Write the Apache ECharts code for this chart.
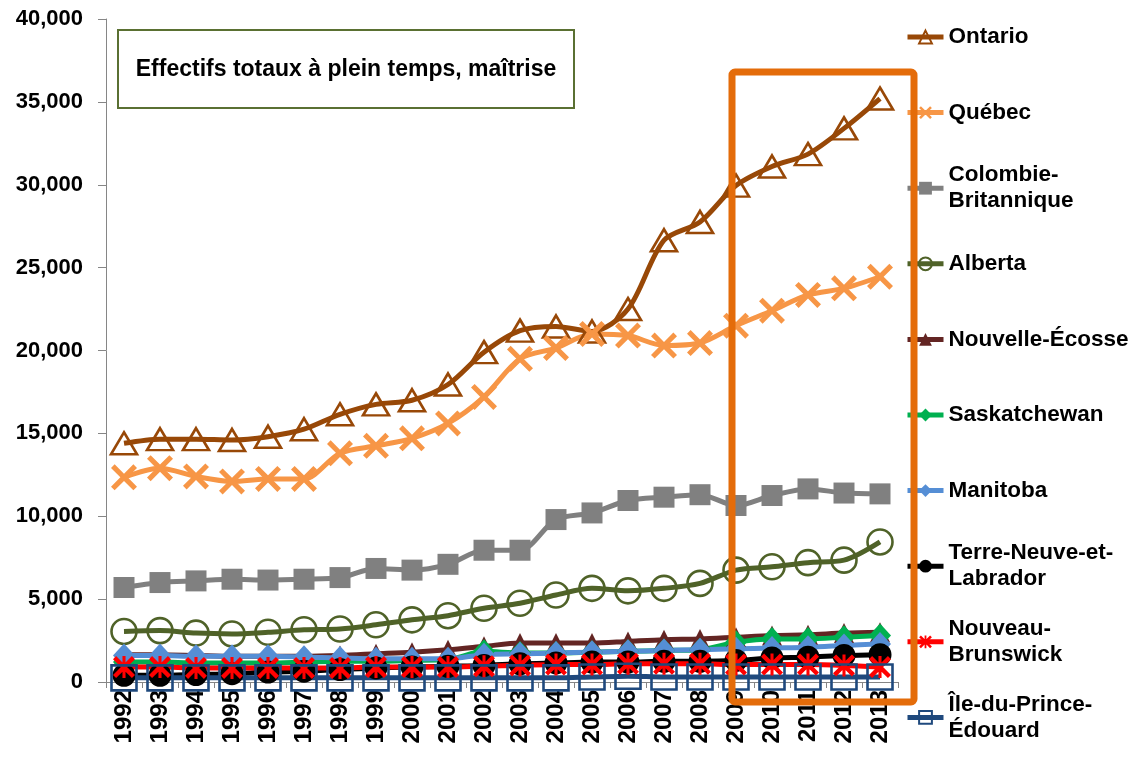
<!DOCTYPE html>
<html>
<head>
<meta charset="utf-8">
<title>Effectifs totaux à plein temps, maîtrise</title>
<script src="https://cdn.jsdelivr.net/npm/echarts@6/dist/echarts.min.js"></script>
<style>
	html, body { margin: 0; padding: 0; background: #fff; }
	#main { width: 1133px; height: 757px; }
</style>
</head>
<body>
<div id="main"></div>
<script>
	var years = ['1992','1993','1994','1995','1996','1997','1998','1999','2000','2001','2002',
		'2003','2004','2005','2006','2007','2008','2009','2010','2011','2012','2013'];

	var ontario = [14400,14650,14650,14600,14800,15250,16150,16750,17000,17950,19900,21200,21450,21150,22500,26650,27750,29950,31100,31850,33400,35200];
	var quebec = [12350,12900,12400,12100,12250,12250,13800,14250,14700,15600,17200,19500,20150,21000,20900,20300,20450,21500,22400,23350,23750,24450];
	var colombie = [5700,6000,6100,6200,6150,6200,6300,6850,6750,7100,7950,7950,9800,10200,10950,11150,11300,10650,11250,11650,11400,11350];
	var alberta = [3050,3100,2950,2900,3000,3150,3200,3450,3750,4000,4450,4750,5250,5650,5500,5650,5950,6750,6950,7200,7350,8450];
	var nouvelleEcosse = [1650,1650,1600,1550,1550,1550,1600,1700,1800,1950,2150,2350,2350,2350,2450,2550,2600,2700,2800,2850,2950,3000];
	var saskatchewan = [1200,1200,1150,1150,1150,1200,1250,1250,1300,1350,1850,1750,1750,1800,1850,1900,1950,2400,2600,2600,2700,2800];
	var manitoba = [1600,1600,1550,1550,1550,1500,1450,1400,1400,1400,1650,1700,1750,1800,1850,1900,1950,2000,2050,2100,2200,2300];
	var terreNeuve = [400,400,450,500,600,650,750,850,900,950,1000,1100,1150,1200,1200,1250,1250,1300,1450,1500,1600,1650];
	var nouveauBrunswick = [900,900,850,850,850,850,850,900,900,900,950,1000,1050,1050,1100,1100,1100,1050,1050,1050,1000,900];
	var ipe = [250,250,250,250,250,250,250,250,250,250,250,250,250,300,350,300,300,300,300,300,300,300];

	var yTicks = [0,5000,10000,15000,20000,25000,30000,35000,40000];

	var FONT = "'Liberation Sans', Arial, sans-serif";
	var X_PATH = 'path://M0,1.4L1.4,0L5,3.6L8.6,0L10,1.4L6.4,5L10,8.6L8.6,10L5,6.4L1.4,10L0,8.6L3.6,5Z';
	var STAR_PATH = 'path://M0,1.4L1.4,0L5,3.6L8.6,0L10,1.4L6.4,5L10,8.6L8.6,10L5,6.4L1.4,10L0,8.6L3.6,5Z M4.3,0H5.7V10H4.3Z';

	// name, data, colour, symbol, size, hollow, legend label
	var seriesDefs = [
		['Ontario', ontario, '#984807', 'triangle', [26,22], true, 'Ontario'],
		['Québec', quebec, '#F79646', X_PATH, 26, false, 'Québec'],
		['Colombie-Britannique', colombie, '#808080', 'rect', 21, false, 'Colombie-\nBritannique'],
		['Alberta', alberta, '#4F6228', 'circle', 25, true, 'Alberta'],
		['Nouvelle-Écosse', nouvelleEcosse, '#632523', 'triangle', 20, false, 'Nouvelle-Écosse'],
		['Saskatchewan', saskatchewan, '#00B050', 'diamond', [22,24], false, 'Saskatchewan'],
		['Manitoba', manitoba, '#558ED5', 'diamond', [22,24], false, 'Manitoba'],
		['Terre-Neuve-et-Labrador', terreNeuve, '#000000', 'circle', 23, false, 'Terre-Neuve-et-\nLabrador'],
		['Nouveau-Brunswick', nouveauBrunswick, '#FF0000', STAR_PATH, 22, false, 'Nouveau-\nBrunswick'],
		['Île-du-Prince-Édouard', ipe, '#1F497D', 'rect', 25, true, 'Île-du-Prince-\nÉdouard']
	];

	var series = [];
	var legends = [];
	seriesDefs.forEach(function(d, i){
		var hollow = d[5];
		series.push({
			name: d[0],
			type: 'line',
			data: d[1],
			smooth: 0.3,
			symbol: d[3],
			symbolSize: d[4],
			showAllSymbol: true,
			lineStyle: { color: d[2], width: 5 },
			itemStyle: hollow ?
				{ color: 'rgba(255,255,255,0)', borderColor: d[2], borderWidth: 2.6 } :
				{ color: d[2], borderWidth: 0 },
			emphasis: { disabled: true },
			animation: false
		});
		var label = d[6];
		var twoLines = label.indexOf('\n') >= 0;
		var centerY = 37 + i * 75.6;
		legends.push({
			show: true,
			orient: 'vertical',
			left: 905,
			top: centerY - (twoLines ? 39 : 13),
			padding: 0,
			itemWidth: 36,
			itemHeight: 16,
			itemGap: 0,
			selectedMode: false,
			data: [d[0]],
			lineStyle: { width: 5 },
			formatter: function(){ return label; },
			textStyle: {
				fontFamily: FONT,
				fontWeight: 'bold',
				fontSize: 22.5,
				color: '#000',
				lineHeight: 26,
				padding: twoLines ? [26,0,0,0] : 0
			}
		});
	});

	var myChart = echarts.init(document.getElementById('main'));
	myChart.setOption({
		backgroundColor: '#fff',
		animation: false,
		grid: { left: 106, right: 235, top: 19, bottom: 75, containLabel: false },
		legend: legends,
		xAxis: {
			type: 'category',
			data: years,
			boundaryGap: true,
			axisLine: { lineStyle: { color: '#868686', width: 1 } },
			axisTick: { show: true, length: 6, lineStyle: { color: '#868686' } },
			axisLabel: {
				rotate: 90,
				margin: 8,
				interval: 0,
				fontFamily: FONT,
				fontWeight: 'bold',
				fontSize: 24,
				color: '#000'
			},
			splitLine: { show: false }
		},
		yAxis: {
			type: 'value',
			min: yTicks[0],
			max: yTicks[yTicks.length - 1],
			interval: 5000,
			axisLine: { show: true, lineStyle: { color: '#868686', width: 1 } },
			axisTick: { show: true, length: 8, lineStyle: { color: '#868686' } },
			axisLabel: {
				margin: 23,
				fontFamily: FONT,
				fontWeight: 'bold',
				fontSize: 22,
				color: '#000',
				formatter: function(v){ return echarts.format.addCommas(v); }
			},
			splitLine: { show: false }
		},
		graphic: [
			{
				type: 'rect',
				z: 50,
				shape: { x: 118, y: 30, width: 456, height: 78 },
				style: { fill: '#fff', stroke: '#5A7032', lineWidth: 2 }
			},
			{
				type: 'text',
				z: 51,
				x: 346,
				y: 70,
				style: {
					text: 'Effectifs totaux à plein temps, maîtrise',
					fontFamily: FONT,
					fontWeight: 'bold',
					fontSize: 23,
					fill: '#000',
					align: 'center',
					verticalAlign: 'middle'
				}
			},
			{
				type: 'rect',
				z: 100,
				shape: { x: 732, y: 72, width: 182, height: 630, r: 3 },
				style: { fill: null, stroke: '#E46C0A', lineWidth: 7 }
			}
		],
		series: series
	});
</script>
</body>
</html>
